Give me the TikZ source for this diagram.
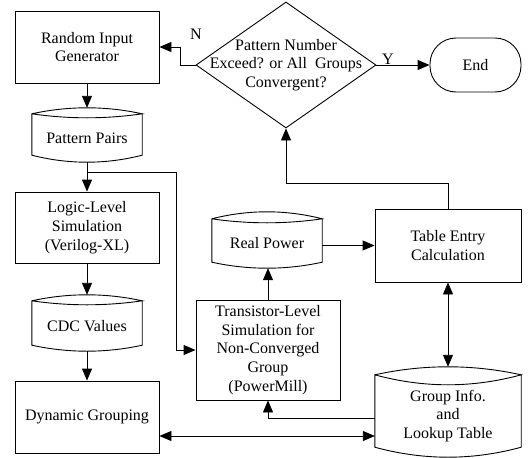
\documentclass[tikz,border=0pt]{standalone}
\usepackage{fontspec}
\setmainfont{Liberation Serif}
\usetikzlibrary{calc,positioning,arrows.meta,shapes.geometric}
\tikzset{
  line/.style={line width=0.9pt},
  flow/.style={line, -{Triangle[length=12pt,width=10pt]}},
  dflow/.style={line, {Triangle[length=12pt,width=10pt]}-{Triangle[length=12pt,width=10pt]}},
  txt/.style={font=\fontsize{16}{18.8}\selectfont, align=center, inner sep=0pt},
  procbox/.style={txt, draw, line, minimum width=144pt, minimum height=72pt},
  store/.style={txt},
  decision/.style={draw, line, diamond, inner sep=0pt, minimum width=180pt, minimum height=126pt},
  terminal/.style={txt, draw, line, rounded corners=26pt, minimum width=91pt, minimum height=54pt}
}
% outline of a stored-data node: name, upper bulge, lower bulge, bottom dip
\newcommand{\storeoutline}[4]{%
  \draw[line] (#1.north west)
    .. controls ($(#1.north west)!.3333!(#1.north east)+(0,{-4/3*#2})$)
           and ($(#1.north west)!.6667!(#1.north east)+(0,{-4/3*#2})$) .. (#1.north east)
    .. controls ($(#1.north west)!.6667!(#1.north east)+(0,{4/3*#3})$)
           and ($(#1.north west)!.3333!(#1.north east)+(0,{4/3*#3})$) .. (#1.north west)
    -- ($(#1.south west)+(0,-#4)$)
    .. controls ($(#1.south west)!.3333!(#1.south east)+(0,{#4/3})$)
           and ($(#1.south west)!.6667!(#1.south east)+(0,{#4/3})$) .. ($(#1.south east)+(0,-#4)$)
    -- (#1.north east);
  \coordinate (#1-top) at ($(#1.north)+(0,-#2)$);
}
\begin{document}
\begin{tikzpicture}[x=1pt,y=-1pt]
  \useasboundingbox (0,0) rectangle (528,458);
  % left column
  \node[procbox] (rig) at (87,47) {Random Input\\Generator};
  \node[store, minimum width=110pt, minimum height=48pt] (pp) at (87,138) {Pattern Pairs};
  \storeoutline{pp}{6}{4}{7}
  \node[procbox, minimum height=71pt] (logic) at (87,227.5) {Logic-Level\\Simulation\\(Verilog-XL)};
  \node[store, minimum width=110pt, minimum height=50pt] (cdc) at (87,326) {CDC Values};
  \storeoutline{cdc}{6}{4}{6}
  \node[procbox] (dyn) at (87,417) {Dynamic Grouping};
  % decision and end
  \node[decision] (dec) at (286,65) {};
  \node[txt] (dectxt) at (dec.center) {Pattern Number\\Exceed? or All~ Groups\\Convergent?};
  \node[terminal] (end) at (475.5,65) {End};
  \node[txt] (lblN) at (196,34) {N};
  \node[txt] (lblY) at (388,59) {Y};
  % middle and right
  \node[store, minimum width=110pt, minimum height=49pt] (real) at (267,243.5) {Real Power};
  \storeoutline{real}{7}{4}{6}
  \node[procbox, minimum height=100pt] (trans) at (268,350) {Transistor-Level\\Simulation for\\Non-Converged\\Group\\(PowerMill)};
  \node[procbox, minimum width=146pt, minimum height=73pt] (table) at (448,245.5) {Table Entry\\Calculation};
  \node[store, minimum width=146pt, minimum height=82pt] (group) at (448,416) {Group Info.\\and\\Lookup Table};
  \storeoutline{group}{8}{10}{10}

  \draw[flow] (rig.south) -- (pp-top);
  \draw[flow] (pp.south) -- (logic.north);
  \coordinate (split) at ($(pp.south)+(0,10)$);
  \draw[flow] (split) -| ($(trans.west)+(-19,0)$) -- (trans.west);
  \draw[flow] (logic.south) -- (cdc-top);
  \draw[flow] (cdc.south) -- (dyn.north);
  \draw[flow] (trans.north) -- (trans.north |- real.south);
  \draw[flow] (real.east |- table.west) -- (table.west);
  \draw[flow] (table.north) |- ($(dec.south)+(0,55)$) -- (dec.south);
  \draw[dflow] (table.south) -- (group-top);
  \draw[flow] ($(group.west)+(0,2)$) -| (trans.south);
  \coordinate (gl) at ($(group.west)+(0,20)$);
  \draw[dflow] (dyn.east |- gl) -- (gl);
  \draw[flow] (dec.west) -- ++(-15,0) |- (rig.east);
  \draw[flow] (dec.east) -- (end.west);
\end{tikzpicture}
\end{document}
